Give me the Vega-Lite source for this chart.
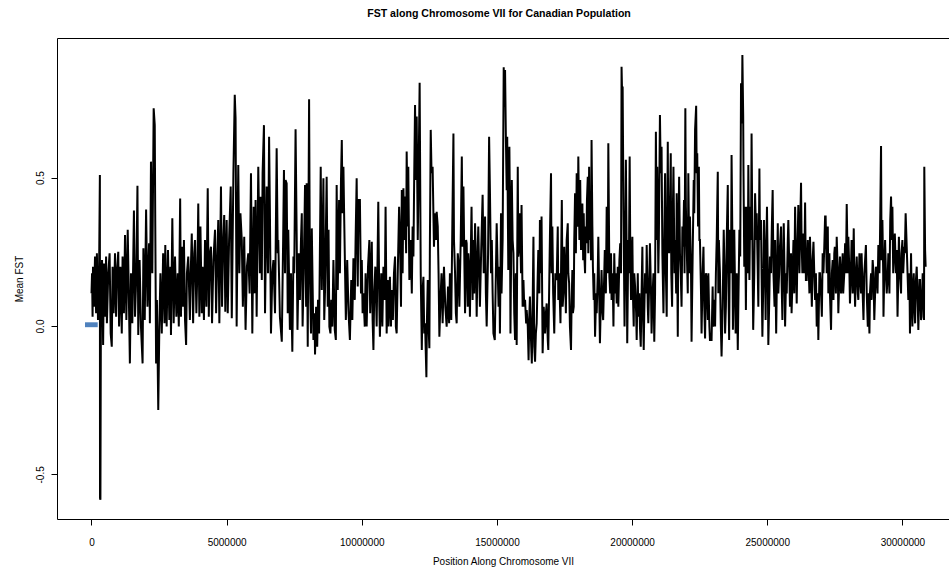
{
  "$schema": "https://vega.github.io/schema/vega-lite/v6.json",
  "width": 892,
  "height": 481,
  "autosize": {"type": "none"},
  "padding": {"left": 57, "top": 38, "right": 0, "bottom": 50},
  "background": "#ffffff",
  "title": {"text": "FST along Chromosome VII for Canadian Population", "font": "Liberation Sans", "fontSize": 10.6, "fontWeight": "bold", "color": "#000000", "anchor": "middle", "offset": 18, "dx": -4},
  "config": {
    "view": {"stroke": null},
    "font": "Liberation Sans",
    "axis": {"grid": false, "domainColor": "#000000", "tickColor": "#000000", "labelColor": "#000000", "titleColor": "#000000", "labelFont": "Liberation Sans", "titleFont": "Liberation Sans", "labelFontSize": 10, "titleFontSize": 10, "titleFontWeight": "normal", "domainWidth": 1, "tickWidth": 1}
  },
  "resolve": {"axis": {"x": "independent"}},
  "layer": [
    {
      "data": {"values": [
{"pos":0,"fst":0.11},{"pos":20000,"fst":0.178},{"pos":40000,"fst":0.031},{"pos":55000,"fst":0.2},{"pos":90000,"fst":0.065},{"pos":130000,"fst":0.234},{"pos":170000,"fst":0.043},{"pos":200000,"fst":0.245},{"pos":240000,"fst":0.02},{"pos":280000,"fst":0.178},{"pos":310000,"fst":0.509},{"pos":315000,"fst":-0.58},{"pos":330000,"fst":-0.586},{"pos":350000,"fst":0.11},{"pos":390000,"fst":0.222},{"pos":430000,"fst":-0.064},{"pos":460000,"fst":0.211},{"pos":500000,"fst":0.031},{"pos":540000,"fst":0.234},{"pos":570000,"fst":0.009},{"pos":620000,"fst":0.178},{"pos":670000,"fst":0.245},{"pos":710000,"fst":-0.025},{"pos":750000,"fst":-0.07},{"pos":780000,"fst":0.2},{"pos":820000,"fst":0.043},{"pos":870000,"fst":0.245},{"pos":910000,"fst":0.031},{"pos":940000,"fst":0.178},{"pos":990000,"fst":0.25},
{"pos":1020000,"fst":-0.002},{"pos":1070000,"fst":0.2},{"pos":1120000,"fst":-0.025},{"pos":1150000,"fst":0.234},{"pos":1200000,"fst":0.043},{"pos":1240000,"fst":0.307},{"pos":1290000,"fst":0.02},{"pos":1340000,"fst":0.324},{"pos":1380000,"fst":0.11},{"pos":1420000,"fst":-0.126},{"pos":1460000,"fst":0.178},{"pos":1510000,"fst":0.009},{"pos":1570000,"fst":0.389},{"pos":1610000,"fst":0.031},{"pos":1660000,"fst":0.178},{"pos":1700000,"fst":0.473},{"pos":1730000,"fst":-0.03},{"pos":1780000,"fst":0.222},{"pos":1830000,"fst":-0.002},{"pos":1890000,"fst":-0.126},{"pos":1920000,"fst":0.262},{"pos":1970000,"fst":0.02},
{"pos":2020000,"fst":0.393},{"pos":2070000,"fst":0.065},{"pos":2130000,"fst":0.279},{"pos":2160000,"fst":0.009},{"pos":2200000,"fst":0.554},{"pos":2250000,"fst":0.178},{"pos":2300000,"fst":0.734},{"pos":2340000,"fst":0.677},{"pos":2360000,"fst":0.335},{"pos":2390000,"fst":-0.126},{"pos":2420000,"fst":0.088},{"pos":2470000,"fst":-0.283},{"pos":2510000,"fst":-0.002},{"pos":2550000,"fst":0.178},{"pos":2600000,"fst":-0.025},{"pos":2650000,"fst":0.245},{"pos":2700000,"fst":0.009},{"pos":2730000,"fst":0.273},{"pos":2780000,"fst":-0.002},{"pos":2830000,"fst":0.256},{"pos":2880000,"fst":0.02},{"pos":2920000,"fst":0.2},{"pos":2940000,"fst":-0.03},{"pos":2990000,"fst":0.363},
{"pos":3040000,"fst":0.009},{"pos":3090000,"fst":0.234},{"pos":3140000,"fst":0.031},{"pos":3190000,"fst":0.178},{"pos":3230000,"fst":-0.002},{"pos":3280000,"fst":0.43},{"pos":3310000,"fst":0.031},{"pos":3350000,"fst":0.267},{"pos":3390000,"fst":0.065},{"pos":3420000,"fst":0.29},{"pos":3460000,"fst":0.02},{"pos":3500000,"fst":-0.064},{"pos":3530000,"fst":0.178},{"pos":3580000,"fst":0.234},{"pos":3640000,"fst":0.02},{"pos":3670000,"fst":0.178},{"pos":3710000,"fst":0.312},{"pos":3760000,"fst":0.009},{"pos":3800000,"fst":0.245},{"pos":3830000,"fst":0.29},{"pos":3880000,"fst":0.043},{"pos":3920000,"fst":0.2},{"pos":3950000,"fst":0.413},{"pos":3990000,"fst":0.031},
{"pos":4030000,"fst":0.335},{"pos":4080000,"fst":0.043},{"pos":4110000,"fst":0.2},{"pos":4160000,"fst":0.02},{"pos":4200000,"fst":0.29},{"pos":4250000,"fst":0.065},{"pos":4300000,"fst":0.464},{"pos":4340000,"fst":0.031},{"pos":4380000,"fst":0.245},{"pos":4420000,"fst":0.267},{"pos":4460000,"fst":0.009},{"pos":4510000,"fst":0.222},{"pos":4570000,"fst":0.324},{"pos":4610000,"fst":0.043},{"pos":4640000,"fst":0.178},{"pos":4690000,"fst":0.357},{"pos":4730000,"fst":0.009},{"pos":4790000,"fst":0.47},{"pos":4830000,"fst":0.065},{"pos":4860000,"fst":0.245},{"pos":4910000,"fst":0.374},{"pos":4950000,"fst":0.048},
{"pos":5000000,"fst":0.357},{"pos":5040000,"fst":0.043},{"pos":5090000,"fst":0.29},{"pos":5150000,"fst":0.47},{"pos":5190000,"fst":0.026},{"pos":5250000,"fst":0.515},{"pos":5300000,"fst":0.779},{"pos":5330000,"fst":0.7},{"pos":5370000,"fst":-0.002},{"pos":5410000,"fst":0.38},{"pos":5430000,"fst":0.543},{"pos":5470000,"fst":0.178},{"pos":5510000,"fst":0.38},{"pos":5560000,"fst":0.29},{"pos":5600000,"fst":0.065},{"pos":5650000,"fst":0.301},{"pos":5700000,"fst":-0.013},{"pos":5750000,"fst":0.2},{"pos":5800000,"fst":0.245},{"pos":5850000,"fst":0.11},{"pos":5900000,"fst":0.515},{"pos":5950000,"fst":-0.025},
{"pos":6000000,"fst":0.402},{"pos":6040000,"fst":0.11},{"pos":6070000,"fst":0.425},{"pos":6110000,"fst":0.031},{"pos":6170000,"fst":0.537},{"pos":6230000,"fst":0.178},{"pos":6260000,"fst":0.436},{"pos":6300000,"fst":0.155},{"pos":6330000,"fst":0.515},{"pos":6380000,"fst":0.677},{"pos":6420000,"fst":0.043},{"pos":6480000,"fst":0.47},{"pos":6530000,"fst":0.178},{"pos":6570000,"fst":0.638},{"pos":6600000,"fst":0.391},{"pos":6640000,"fst":-0.025},{"pos":6690000,"fst":0.178},{"pos":6730000,"fst":0.222},{"pos":6790000,"fst":0.043},{"pos":6850000,"fst":0.599},{"pos":6890000,"fst":0.245},{"pos":6910000,"fst":0.29},{"pos":6970000,"fst":0.031},
{"pos":7040000,"fst":-0.053},{"pos":7090000,"fst":0.29},{"pos":7120000,"fst":0.526},{"pos":7160000,"fst":0.178},{"pos":7180000,"fst":0.492},{"pos":7220000,"fst":0.481},{"pos":7260000,"fst":0.043},{"pos":7280000,"fst":0.324},{"pos":7340000,"fst":-0.013},{"pos":7380000,"fst":0.178},{"pos":7430000,"fst":-0.087},{"pos":7470000,"fst":0.234},
{"pos":7500000,"fst":0.178},{"pos":7550000,"fst":0.663},{"pos":7590000,"fst":0.312},{"pos":7620000,"fst":-0.013},{"pos":7670000,"fst":0.245},{"pos":7710000,"fst":0.088},{"pos":7750000,"fst":0.29},{"pos":7780000,"fst":0.38},{"pos":7810000,"fst":-0.002},{"pos":7850000,"fst":0.178},{"pos":7900000,"fst":0.475},{"pos":7940000,"fst":0.065},{"pos":7960000,"fst":0.481},
{"pos":8000000,"fst":-0.07},{"pos":8050000,"fst":0.764},{"pos":8080000,"fst":0.178},{"pos":8120000,"fst":-0.025},{"pos":8150000,"fst":0.329},{"pos":8210000,"fst":-0.047},{"pos":8250000,"fst":0.043},{"pos":8270000,"fst":-0.096},{"pos":8310000,"fst":0.065},{"pos":8350000,"fst":-0.07},{"pos":8380000,"fst":0.088},{"pos":8420000,"fst":-0.025},{"pos":8480000,"fst":0.537},{"pos":8520000,"fst":0.121},{"pos":8550000,"fst":0.29},{"pos":8580000,"fst":0.498},{"pos":8610000,"fst":0.02},{"pos":8640000,"fst":0.121},{"pos":8700000,"fst":0.503},{"pos":8740000,"fst":0.065},{"pos":8770000,"fst":0.324},{"pos":8800000,"fst":-0.002},{"pos":8840000,"fst":-0.025},{"pos":8870000,"fst":0.088},{"pos":8910000,"fst":-0.002},{"pos":8950000,"fst":0.222},
{"pos":9000000,"fst":-0.013},{"pos":9040000,"fst":-0.047},{"pos":9070000,"fst":0.475},{"pos":9110000,"fst":0.121},{"pos":9160000,"fst":0.425},{"pos":9190000,"fst":0.178},{"pos":9230000,"fst":0.492},{"pos":9260000,"fst":0.627},{"pos":9290000,"fst":0.38},{"pos":9320000,"fst":0.537},{"pos":9350000,"fst":0.357},{"pos":9410000,"fst":0.02},{"pos":9460000,"fst":0.222},{"pos":9510000,"fst":0.043},{"pos":9560000,"fst":-0.047},{"pos":9610000,"fst":0.155},{"pos":9650000,"fst":0.02},{"pos":9690000,"fst":0.228},{"pos":9740000,"fst":0.088},{"pos":9770000,"fst":0.29},{"pos":9810000,"fst":0.498},{"pos":9850000,"fst":0.133},{"pos":9880000,"fst":0.425},{"pos":9930000,"fst":0.425},{"pos":9970000,"fst":0.11},
{"pos":10000000,"fst":0.222},{"pos":10030000,"fst":0.043},{"pos":10060000,"fst":0.11},{"pos":10110000,"fst":-0.002},{"pos":10140000,"fst":0.178},{"pos":10180000,"fst":-0.002},{"pos":10230000,"fst":0.2},{"pos":10280000,"fst":0.29},{"pos":10310000,"fst":0.043},{"pos":10370000,"fst":0.284},{"pos":10400000,"fst":0.02},{"pos":10430000,"fst":-0.081},{"pos":10460000,"fst":0.11},{"pos":10500000,"fst":0.2},{"pos":10550000,"fst":-0.002},{"pos":10610000,"fst":0.419},{"pos":10650000,"fst":0.065},{"pos":10670000,"fst":-0.036},{"pos":10720000,"fst":0.178},{"pos":10760000,"fst":-0.002},{"pos":10800000,"fst":0.2},{"pos":10850000,"fst":0.088},{"pos":10880000,"fst":0.402},{"pos":10920000,"fst":-0.025},{"pos":10960000,"fst":0.155},{"pos":10990000,"fst":-0.002},
{"pos":11040000,"fst":0.166},{"pos":11080000,"fst":-0.002},{"pos":11100000,"fst":0.121},{"pos":11150000,"fst":0.02},{"pos":11190000,"fst":0.178},{"pos":11230000,"fst":0.234},{"pos":11260000,"fst":-0.002},{"pos":11290000,"fst":-0.025},{"pos":11330000,"fst":0.178},{"pos":11380000,"fst":0.402},{"pos":11410000,"fst":0.312},{"pos":11450000,"fst":0.065},{"pos":11480000,"fst":0.458},{"pos":11510000,"fst":0.178},{"pos":11540000,"fst":0.464},{"pos":11570000,"fst":0.29},{"pos":11600000,"fst":0.436},{"pos":11640000,"fst":0.245},{"pos":11660000,"fst":0.588},{"pos":11700000,"fst":0.335},{"pos":11720000,"fst":0.537},{"pos":11760000,"fst":0.155},{"pos":11810000,"fst":0.29},{"pos":11850000,"fst":0.11},{"pos":11880000,"fst":0.335},{"pos":11910000,"fst":0.234},{"pos":11940000,"fst":0.515},{"pos":11970000,"fst":0.745},
{"pos":12000000,"fst":0.492},{"pos":12030000,"fst":0.706},{"pos":12070000,"fst":0.29},{"pos":12090000,"fst":0.425},{"pos":12140000,"fst":0.82},{"pos":12180000,"fst":0.178},{"pos":12220000,"fst":-0.081},{"pos":12250000,"fst":0.121},{"pos":12280000,"fst":0.166},{"pos":12310000,"fst":-0.025},{"pos":12340000,"fst":0.009},{"pos":12390000,"fst":-0.173},{"pos":12410000,"fst":0.02},{"pos":12440000,"fst":0.155},{"pos":12470000,"fst":-0.002},{"pos":12500000,"fst":-0.075},{"pos":12520000,"fst":0.29},{"pos":12550000,"fst":0.661},{"pos":12580000,"fst":0.515},{"pos":12620000,"fst":0.537},{"pos":12670000,"fst":0.267},{"pos":12710000,"fst":0.38},{"pos":12750000,"fst":0.29},{"pos":12770000,"fst":0.385},{"pos":12810000,"fst":0.335},{"pos":12840000,"fst":0.178},{"pos":12870000,"fst":-0.036},{"pos":12920000,"fst":0.11},{"pos":12950000,"fst":0.178},{"pos":12990000,"fst":0.009},
{"pos":13040000,"fst":0.2},{"pos":13090000,"fst":0.065},{"pos":13140000,"fst":-0.002},{"pos":13190000,"fst":0.133},{"pos":13230000,"fst":0.009},{"pos":13260000,"fst":0.178},{"pos":13310000,"fst":0.02},{"pos":13350000,"fst":0.346},{"pos":13390000,"fst":0.649},{"pos":13410000,"fst":0.29},{"pos":13450000,"fst":0.178},{"pos":13480000,"fst":0.043},{"pos":13510000,"fst":0.009},{"pos":13550000,"fst":0.245},{"pos":13570000,"fst":0.222},{"pos":13610000,"fst":0.065},{"pos":13660000,"fst":0.29},{"pos":13700000,"fst":0.571},{"pos":13730000,"fst":0.267},{"pos":13760000,"fst":0.47},{"pos":13800000,"fst":0.178},{"pos":13820000,"fst":0.043},{"pos":13860000,"fst":0.29},{"pos":13880000,"fst":0.279},{"pos":13920000,"fst":0.065},{"pos":13940000,"fst":0.245},{"pos":13980000,"fst":0.178},
{"pos":14000000,"fst":0.031},{"pos":14040000,"fst":0.29},{"pos":14060000,"fst":0.402},{"pos":14100000,"fst":0.088},{"pos":14120000,"fst":0.29},{"pos":14160000,"fst":0.11},{"pos":14190000,"fst":0.346},{"pos":14230000,"fst":0.178},{"pos":14250000,"fst":0.031},{"pos":14290000,"fst":0.267},{"pos":14310000,"fst":0.335},{"pos":14350000,"fst":0.155},{"pos":14370000,"fst":0.065},{"pos":14420000,"fst":0.267},{"pos":14470000,"fst":0.442},{"pos":14510000,"fst":0.178},{"pos":14560000,"fst":0.369},{"pos":14590000,"fst":0.11},{"pos":14620000,"fst":-0.002},{"pos":14670000,"fst":0.234},{"pos":14710000,"fst":0.638},{"pos":14740000,"fst":0.458},{"pos":14780000,"fst":0.178},{"pos":14810000,"fst":0.29},{"pos":14840000,"fst":0.11},{"pos":14870000,"fst":-0.025},{"pos":14920000,"fst":-0.047},{"pos":14960000,"fst":0.178},{"pos":14990000,"fst":0.346},
{"pos":15030000,"fst":0.178},{"pos":15060000,"fst":0.065},{"pos":15090000,"fst":0.2},{"pos":15110000,"fst":-0.025},{"pos":15150000,"fst":0.38},{"pos":15170000,"fst":0.11},{"pos":15210000,"fst":0.29},{"pos":15250000,"fst":0.872},{"pos":15270000,"fst":0.739},{"pos":15300000,"fst":0.863},{"pos":15330000,"fst":0.638},{"pos":15360000,"fst":0.458},{"pos":15380000,"fst":0.638},{"pos":15420000,"fst":0.189},{"pos":15460000,"fst":0.604},{"pos":15480000,"fst":0.402},{"pos":15500000,"fst":-0.025},{"pos":15550000,"fst":0.492},{"pos":15580000,"fst":0.29},{"pos":15610000,"fst":0.245},{"pos":15640000,"fst":0.043},{"pos":15670000,"fst":-0.047},{"pos":15700000,"fst":0.178},{"pos":15730000,"fst":-0.064},{"pos":15770000,"fst":0.537},{"pos":15790000,"fst":0.234},{"pos":15820000,"fst":0.267},{"pos":15850000,"fst":0.38},{"pos":15890000,"fst":0.178},{"pos":15910000,"fst":0.408},{"pos":15950000,"fst":0.065},{"pos":15980000,"fst":0.155},
{"pos":16010000,"fst":0.065},{"pos":16040000,"fst":0.088},{"pos":16080000,"fst":0.009},{"pos":16100000,"fst":0.054},{"pos":16140000,"fst":-0.002},{"pos":16170000,"fst":-0.115},{"pos":16200000,"fst":0.043},{"pos":16220000,"fst":0.099},{"pos":16260000,"fst":-0.047},{"pos":16290000,"fst":-0.126},{"pos":16320000,"fst":0.065},{"pos":16350000,"fst":0.301},{"pos":16380000,"fst":-0.07},{"pos":16410000,"fst":-0.12},{"pos":16440000,"fst":-0.025},{"pos":16470000,"fst":0.009},{"pos":16510000,"fst":0.178},{"pos":16530000,"fst":0.256},{"pos":16570000,"fst":0.11},{"pos":16590000,"fst":0.357},{"pos":16630000,"fst":0.178},{"pos":16650000,"fst":0.369},{"pos":16690000,"fst":-0.092},{"pos":16730000,"fst":0.065},{"pos":16780000,"fst":-0.025},{"pos":16810000,"fst":0.043},{"pos":16840000,"fst":0.076},{"pos":16880000,"fst":-0.047},{"pos":16900000,"fst":-0.081},{"pos":16940000,"fst":0.178},{"pos":16960000,"fst":0.301},
{"pos":17000000,"fst":0.515},{"pos":17020000,"fst":0.178},{"pos":17050000,"fst":0.335},{"pos":17080000,"fst":0.11},{"pos":17120000,"fst":-0.025},{"pos":17160000,"fst":0.178},{"pos":17210000,"fst":0.155},{"pos":17250000,"fst":0.335},{"pos":17270000,"fst":0.088},{"pos":17300000,"fst":0.178},{"pos":17350000,"fst":0.009},{"pos":17400000,"fst":0.425},{"pos":17430000,"fst":0.065},{"pos":17460000,"fst":0.11},{"pos":17490000,"fst":0.267},{"pos":17520000,"fst":0.178},{"pos":17550000,"fst":0.043},{"pos":17580000,"fst":0.29},{"pos":17620000,"fst":0.346},{"pos":17640000,"fst":0.178},{"pos":17670000,"fst":0.144},{"pos":17700000,"fst":-0.002},{"pos":17740000,"fst":-0.081},{"pos":17760000,"fst":0.065},{"pos":17790000,"fst":0.189},{"pos":17810000,"fst":0.043},{"pos":17840000,"fst":0.065},{"pos":17860000,"fst":0.29},{"pos":17890000,"fst":0.447},{"pos":17920000,"fst":0.245},{"pos":17950000,"fst":0.515},{"pos":17990000,"fst":0.335},
{"pos":18010000,"fst":0.571},{"pos":18050000,"fst":0.29},{"pos":18080000,"fst":0.492},{"pos":18110000,"fst":0.256},{"pos":18130000,"fst":0.335},{"pos":18160000,"fst":0.413},{"pos":18190000,"fst":0.222},{"pos":18210000,"fst":0.38},{"pos":18230000,"fst":0.245},{"pos":18260000,"fst":0.178},{"pos":18280000,"fst":0.335},{"pos":18310000,"fst":0.279},{"pos":18330000,"fst":0.425},{"pos":18360000,"fst":0.503},{"pos":18380000,"fst":0.245},{"pos":18410000,"fst":0.537},{"pos":18430000,"fst":0.29},{"pos":18460000,"fst":0.38},{"pos":18480000,"fst":0.222},{"pos":18500000,"fst":0.627},{"pos":18530000,"fst":0.335},{"pos":18550000,"fst":0.2},{"pos":18580000,"fst":0.088},{"pos":18600000,"fst":0.178},{"pos":18630000,"fst":-0.036},{"pos":18670000,"fst":0.11},{"pos":18690000,"fst":0.043},{"pos":18730000,"fst":0.178},{"pos":18750000,"fst":0.301},{"pos":18790000,"fst":0.065},{"pos":18810000,"fst":-0.058},{"pos":18850000,"fst":0.11},{"pos":18870000,"fst":0.189},{"pos":18910000,"fst":0.043},{"pos":18930000,"fst":0.02},{"pos":18970000,"fst":0.178},{"pos":18990000,"fst":0.256},
{"pos":19030000,"fst":0.11},{"pos":19060000,"fst":0.402},{"pos":19100000,"fst":0.178},{"pos":19120000,"fst":0.616},{"pos":19160000,"fst":0.166},{"pos":19190000,"fst":0.11},{"pos":19220000,"fst":0.245},{"pos":19240000,"fst":0.088},{"pos":19280000,"fst":0.178},{"pos":19310000,"fst":-0.002},{"pos":19340000,"fst":0.245},{"pos":19370000,"fst":0.11},{"pos":19400000,"fst":0.178},{"pos":19430000,"fst":0.076},{"pos":19470000,"fst":0.2},{"pos":19490000,"fst":0.065},{"pos":19530000,"fst":0.222},{"pos":19560000,"fst":0.279},{"pos":19590000,"fst":0.178},{"pos":19610000,"fst":0.874},{"pos":19640000,"fst":0.739},{"pos":19650000,"fst":0.807},{"pos":19680000,"fst":0.402},{"pos":19720000,"fst":-0.002},{"pos":19740000,"fst":0.178},{"pos":19770000,"fst":0.56},{"pos":19800000,"fst":0.234},{"pos":19820000,"fst":-0.058},{"pos":19860000,"fst":0.29},{"pos":19880000,"fst":0.178},{"pos":19910000,"fst":0.571},{"pos":19930000,"fst":0.29},{"pos":19960000,"fst":0.088},{"pos":19980000,"fst":0.222},
{"pos":20010000,"fst":0.301},{"pos":20030000,"fst":0.11},{"pos":20060000,"fst":-0.002},{"pos":20080000,"fst":0.178},{"pos":20110000,"fst":0.133},{"pos":20150000,"fst":0.043},{"pos":20170000,"fst":-0.047},{"pos":20210000,"fst":0.178},{"pos":20230000,"fst":0.031},{"pos":20270000,"fst":0.11},{"pos":20290000,"fst":-0.002},{"pos":20320000,"fst":-0.07},{"pos":20350000,"fst":0.11},{"pos":20380000,"fst":0.267},{"pos":20400000,"fst":0.065},{"pos":20430000,"fst":-0.081},{"pos":20450000,"fst":0.043},{"pos":20480000,"fst":0.178},{"pos":20520000,"fst":0.11},{"pos":20540000,"fst":0.273},{"pos":20580000,"fst":0.065},{"pos":20600000,"fst":0.009},{"pos":20640000,"fst":0.178},{"pos":20660000,"fst":0.279},{"pos":20700000,"fst":0.11},{"pos":20720000,"fst":-0.025},{"pos":20760000,"fst":0.11},{"pos":20790000,"fst":0.178},{"pos":20820000,"fst":-0.053},{"pos":20850000,"fst":0.11},{"pos":20880000,"fst":0.655},{"pos":20910000,"fst":0.29},{"pos":20930000,"fst":0.537},{"pos":20970000,"fst":0.178},{"pos":20990000,"fst":0.29},
{"pos":21030000,"fst":0.711},{"pos":21060000,"fst":0.515},{"pos":21090000,"fst":0.604},{"pos":21120000,"fst":0.245},{"pos":21160000,"fst":0.043},{"pos":21190000,"fst":0.29},{"pos":21220000,"fst":0.515},{"pos":21250000,"fst":0.178},{"pos":21280000,"fst":0.031},{"pos":21320000,"fst":0.621},{"pos":21340000,"fst":0.29},{"pos":21370000,"fst":0.245},{"pos":21400000,"fst":0.402},{"pos":21430000,"fst":0.582},{"pos":21450000,"fst":0.178},{"pos":21480000,"fst":0.065},{"pos":21500000,"fst":0.335},{"pos":21530000,"fst":0.537},{"pos":21570000,"fst":0.178},{"pos":21590000,"fst":0.29},{"pos":21630000,"fst":0.11},{"pos":21650000,"fst":0.447},{"pos":21690000,"fst":-0.036},{"pos":21710000,"fst":0.29},{"pos":21740000,"fst":0.503},{"pos":21770000,"fst":0.245},{"pos":21800000,"fst":0.178},{"pos":21830000,"fst":0.065},{"pos":21860000,"fst":0.335},{"pos":21890000,"fst":0.267},{"pos":21920000,"fst":0.425},{"pos":21940000,"fst":0.178},{"pos":21970000,"fst":0.734},{"pos":21990000,"fst":0.402},
{"pos":22020000,"fst":0.267},{"pos":22060000,"fst":0.11},{"pos":22080000,"fst":0.515},{"pos":22120000,"fst":0.178},{"pos":22140000,"fst":0.369},{"pos":22180000,"fst":0.178},{"pos":22200000,"fst":-0.053},{"pos":22240000,"fst":0.234},{"pos":22280000,"fst":0.492},{"pos":22300000,"fst":0.38},{"pos":22330000,"fst":0.661},{"pos":22370000,"fst":0.742},{"pos":22390000,"fst":0.515},{"pos":22410000,"fst":0.582},{"pos":22440000,"fst":0.335},{"pos":22470000,"fst":0.537},{"pos":22490000,"fst":0.29},{"pos":22510000,"fst":0.29},{"pos":22550000,"fst":0.11},{"pos":22570000,"fst":-0.025},{"pos":22610000,"fst":0.178},{"pos":22640000,"fst":0.267},{"pos":22670000,"fst":0.065},{"pos":22700000,"fst":-0.042},{"pos":22730000,"fst":0.178},{"pos":22760000,"fst":0.155},{"pos":22800000,"fst":0.02},{"pos":22820000,"fst":0.178},{"pos":22860000,"fst":-0.002},{"pos":22880000,"fst":-0.047},{"pos":22940000,"fst":-0.047},{"pos":22980000,"fst":0.133},
{"pos":23000000,"fst":-0.002},{"pos":23040000,"fst":0.088},{"pos":23070000,"fst":-0.002},{"pos":23100000,"fst":0.178},{"pos":23130000,"fst":0.29},{"pos":23170000,"fst":0.52},{"pos":23190000,"fst":0.11},{"pos":23210000,"fst":0.29},{"pos":23250000,"fst":0.178},{"pos":23280000,"fst":0.009},{"pos":23310000,"fst":-0.103},{"pos":23350000,"fst":0.065},{"pos":23390000,"fst":0.324},{"pos":23420000,"fst":0.178},{"pos":23440000,"fst":-0.025},{"pos":23470000,"fst":0.065},{"pos":23500000,"fst":0.29},{"pos":23540000,"fst":0.475},{"pos":23560000,"fst":0.178},{"pos":23590000,"fst":-0.047},{"pos":23620000,"fst":0.324},{"pos":23660000,"fst":0.178},{"pos":23680000,"fst":0.576},{"pos":23710000,"fst":0.29},{"pos":23730000,"fst":-0.013},{"pos":23760000,"fst":0.178},{"pos":23780000,"fst":0.324},{"pos":23810000,"fst":0.11},{"pos":23830000,"fst":-0.025},{"pos":23870000,"fst":0.178},{"pos":23910000,"fst":-0.081},{"pos":23930000,"fst":0.065},{"pos":23970000,"fst":0.324},
{"pos":24000000,"fst":0.234},{"pos":24030000,"fst":0.818},{"pos":24060000,"fst":0.683},{"pos":24080000,"fst":0.913},{"pos":24110000,"fst":0.706},{"pos":24120000,"fst":0.537},{"pos":24150000,"fst":0.2},{"pos":24180000,"fst":0.402},{"pos":24210000,"fst":0.054},{"pos":24230000,"fst":0.29},{"pos":24250000,"fst":0.402},{"pos":24280000,"fst":0.178},{"pos":24300000,"fst":0.543},{"pos":24340000,"fst":0.155},{"pos":24370000,"fst":0.402},{"pos":24400000,"fst":0.29},{"pos":24420000,"fst":0.649},{"pos":24450000,"fst":0.29},{"pos":24480000,"fst":-0.013},{"pos":24520000,"fst":0.178},{"pos":24550000,"fst":0.447},{"pos":24590000,"fst":0.29},{"pos":24610000,"fst":0.38},{"pos":24650000,"fst":0.178},{"pos":24670000,"fst":0.065},{"pos":24710000,"fst":0.531},{"pos":24730000,"fst":0.29},{"pos":24770000,"fst":0.357},{"pos":24790000,"fst":0.178},{"pos":24820000,"fst":-0.036},{"pos":24860000,"fst":0.178},{"pos":24880000,"fst":0.357},{"pos":24920000,"fst":0.178},{"pos":24940000,"fst":0.02},{"pos":24970000,"fst":0.29},{"pos":24990000,"fst":0.402},
{"pos":25020000,"fst":0.178},{"pos":25040000,"fst":-0.064},{"pos":25080000,"fst":0.11},{"pos":25100000,"fst":0.234},{"pos":25140000,"fst":0.178},{"pos":25170000,"fst":0.335},{"pos":25200000,"fst":0.458},{"pos":25230000,"fst":0.178},{"pos":25270000,"fst":0.065},{"pos":25290000,"fst":0.29},{"pos":25330000,"fst":-0.025},{"pos":25360000,"fst":0.178},{"pos":25390000,"fst":0.346},{"pos":25410000,"fst":0.11},{"pos":25440000,"fst":0.178},{"pos":25470000,"fst":0.267},{"pos":25510000,"fst":0.335},{"pos":25530000,"fst":0.155},{"pos":25560000,"fst":0.02},{"pos":25580000,"fst":0.178},{"pos":25610000,"fst":0.346},{"pos":25640000,"fst":0.178},{"pos":25660000,"fst":-0.002},{"pos":25700000,"fst":0.178},{"pos":25720000,"fst":0.11},{"pos":25760000,"fst":0.29},{"pos":25780000,"fst":0.357},{"pos":25820000,"fst":0.178},{"pos":25840000,"fst":0.065},{"pos":25880000,"fst":0.245},{"pos":25900000,"fst":0.043},{"pos":25940000,"fst":0.178},{"pos":25970000,"fst":0.29},
{"pos":26000000,"fst":0.11},{"pos":26030000,"fst":0.402},{"pos":26070000,"fst":0.178},{"pos":26090000,"fst":0.076},{"pos":26120000,"fst":0.267},{"pos":26150000,"fst":0.408},{"pos":26190000,"fst":0.178},{"pos":26210000,"fst":0.29},{"pos":26250000,"fst":0.483},{"pos":26270000,"fst":0.29},{"pos":26300000,"fst":0.178},{"pos":26320000,"fst":0.312},{"pos":26350000,"fst":0.29},{"pos":26370000,"fst":0.178},{"pos":26400000,"fst":0.416},{"pos":26430000,"fst":0.155},{"pos":26460000,"fst":0.155},{"pos":26500000,"fst":0.29},{"pos":26520000,"fst":0.234},{"pos":26560000,"fst":0.11},{"pos":26580000,"fst":0.301},{"pos":26620000,"fst":0.178},{"pos":26650000,"fst":0.065},{"pos":26680000,"fst":0.222},{"pos":26710000,"fst":0.284},{"pos":26740000,"fst":0.178},{"pos":26770000,"fst":0.088},{"pos":26800000,"fst":0.178},{"pos":26830000,"fst":-0.002},{"pos":26870000,"fst":0.11},{"pos":26890000,"fst":-0.047},{"pos":26930000,"fst":0.178},{"pos":26950000,"fst":0.178},{"pos":26990000,"fst":0.11},
{"pos":27020000,"fst":0.031},{"pos":27050000,"fst":0.245},{"pos":27080000,"fst":0.178},{"pos":27110000,"fst":0.267},{"pos":27140000,"fst":0.369},{"pos":27160000,"fst":0.369},{"pos":27200000,"fst":0.178},{"pos":27240000,"fst":0.335},{"pos":27260000,"fst":0.11},{"pos":27300000,"fst":0.245},{"pos":27320000,"fst":0.11},{"pos":27360000,"fst":-0.013},{"pos":27390000,"fst":0.178},{"pos":27420000,"fst":0.222},{"pos":27450000,"fst":0.088},{"pos":27480000,"fst":0.245},{"pos":27500000,"fst":0.267},{"pos":27540000,"fst":0.11},{"pos":27570000,"fst":0.301},{"pos":27610000,"fst":0.178},{"pos":27630000,"fst":0.043},{"pos":27670000,"fst":0.178},{"pos":27690000,"fst":0.234},{"pos":27730000,"fst":0.11},{"pos":27750000,"fst":0.155},{"pos":27790000,"fst":0.245},{"pos":27810000,"fst":0.11},{"pos":27850000,"fst":0.178},{"pos":27880000,"fst":0.279},{"pos":27910000,"fst":0.178},{"pos":27940000,"fst":0.411},{"pos":27980000,"fst":0.178},
{"pos":28000000,"fst":0.301},{"pos":28040000,"fst":0.178},{"pos":28060000,"fst":0.076},{"pos":28100000,"fst":0.2},{"pos":28120000,"fst":0.29},{"pos":28160000,"fst":0.11},{"pos":28200000,"fst":0.329},{"pos":28220000,"fst":0.178},{"pos":28250000,"fst":0.065},{"pos":28280000,"fst":0.178},{"pos":28310000,"fst":0.234},{"pos":28350000,"fst":0.11},{"pos":28370000,"fst":0.088},{"pos":28410000,"fst":0.245},{"pos":28430000,"fst":0.178},{"pos":28470000,"fst":0.11},{"pos":28490000,"fst":0.245},{"pos":28530000,"fst":0.11},{"pos":28560000,"fst":0.02},{"pos":28590000,"fst":0.178},{"pos":28620000,"fst":0.222},{"pos":28650000,"fst":0.273},{"pos":28680000,"fst":0.11},{"pos":28720000,"fst":-0.002},{"pos":28740000,"fst":0.11},{"pos":28780000,"fst":-0.025},{"pos":28800000,"fst":0.11},{"pos":28840000,"fst":0.178},{"pos":28860000,"fst":0.088},{"pos":28900000,"fst":0.222},{"pos":28930000,"fst":0.178},{"pos":28960000,"fst":0.02},{"pos":28990000,"fst":0.11},
{"pos":29020000,"fst":0.2},{"pos":29050000,"fst":0.178},{"pos":29080000,"fst":0.11},{"pos":29110000,"fst":0.273},{"pos":29150000,"fst":0.178},{"pos":29170000,"fst":0.29},{"pos":29210000,"fst":0.607},{"pos":29230000,"fst":0.222},{"pos":29260000,"fst":0.357},{"pos":29290000,"fst":0.178},{"pos":29300000,"fst":0.031},{"pos":29330000,"fst":0.178},{"pos":29360000,"fst":0.29},{"pos":29390000,"fst":0.178},{"pos":29420000,"fst":0.11},{"pos":29460000,"fst":0.178},{"pos":29480000,"fst":0.245},{"pos":29520000,"fst":0.11},{"pos":29550000,"fst":0.357},{"pos":29580000,"fst":0.436},{"pos":29610000,"fst":0.29},{"pos":29630000,"fst":0.402},{"pos":29660000,"fst":0.178},{"pos":29700000,"fst":0.267},{"pos":29720000,"fst":0.312},{"pos":29760000,"fst":0.178},{"pos":29790000,"fst":0.256},{"pos":29820000,"fst":0.031},{"pos":29850000,"fst":0.178},{"pos":29870000,"fst":0.301},{"pos":29910000,"fst":0.178},{"pos":29950000,"fst":0.11},{"pos":29970000,"fst":0.245},
{"pos":30000000,"fst":0.29},{"pos":30030000,"fst":0.178},{"pos":30070000,"fst":0.267},{"pos":30090000,"fst":0.245},{"pos":30120000,"fst":0.38},{"pos":30160000,"fst":0.267},{"pos":30190000,"fst":0.178},{"pos":30220000,"fst":0.088},{"pos":30260000,"fst":0.178},{"pos":30280000,"fst":-0.025},{"pos":30320000,"fst":0.245},{"pos":30340000,"fst":0.11},{"pos":30370000,"fst":-0.002},{"pos":30390000,"fst":0.133},{"pos":30420000,"fst":0.178},{"pos":30440000,"fst":0.065},{"pos":30470000,"fst":0.009},{"pos":30500000,"fst":0.155},{"pos":30530000,"fst":0.2},{"pos":30570000,"fst":0.065},{"pos":30590000,"fst":-0.013},{"pos":30630000,"fst":0.155},{"pos":30650000,"fst":0.155},{"pos":30690000,"fst":0.02},{"pos":30710000,"fst":0.031},{"pos":30750000,"fst":0.178},{"pos":30770000,"fst":0.144},{"pos":30800000,"fst":0.02},{"pos":30810000,"fst":0.537},{"pos":30840000,"fst":0.256},{"pos":30860000,"fst":0.2}
      ]},
      "mark": {"type": "line", "color": "#000000", "strokeWidth": 2, "strokeJoin": "miter", "strokeMiterLimit": 2, "clip": true},
      "encoding": {
        "x": {"field": "pos", "type": "quantitative", "scale": {"domain": [-1276300, 31724000], "nice": false, "zero": false},
          "axis": {"orient": "bottom", "values": [0, 5000000, 10000000, 15000000, 20000000, 25000000, 30000000], "format": "d", "title": "Position Along Chromosome VII", "tickSize": 6, "labelPadding": 12, "titlePadding": 9, "labelOverlap": false, "labelFlush": false}},
        "y": {"field": "fst", "type": "quantitative", "scale": {"domain": [-0.6505, 0.9707], "nice": false, "zero": false},
          "axis": {"orient": "left", "values": [-0.5, 0, 0.5], "labelExpr": "datum.value < 0 ? '-' + format(-datum.value, '.1f') : format(datum.value, '.1f')", "labelAngle": 270, "labelAlign": "center", "labelBaseline": "bottom", "tickSize": 6, "labelPadding": 6, "title": "Mean FST", "titlePadding": 11}}
      }
    },
    {
      "data": {"values": [{"x1": -240000, "x2": 230000, "y1": -0.004, "y2": 0.0125}]},
      "mark": {"type": "rect", "color": "#4F81BD"},
      "encoding": {
        "x": {"field": "x1", "type": "quantitative", "axis": {"orient": "top", "labels": false, "ticks": false, "title": null, "domain": true}},
        "x2": {"field": "x2"},
        "y": {"field": "y1", "type": "quantitative",
          "axis": {"orient": "left", "values": [-0.5, 0, 0.5], "labelExpr": "datum.value < 0 ? '-' + format(-datum.value, '.1f') : format(datum.value, '.1f')", "labelAngle": 270, "labelAlign": "center", "labelBaseline": "bottom", "tickSize": 6, "labelPadding": 6, "title": "Mean FST", "titlePadding": 11}},
        "y2": {"field": "y2"}
      }
    }
  ]
}
